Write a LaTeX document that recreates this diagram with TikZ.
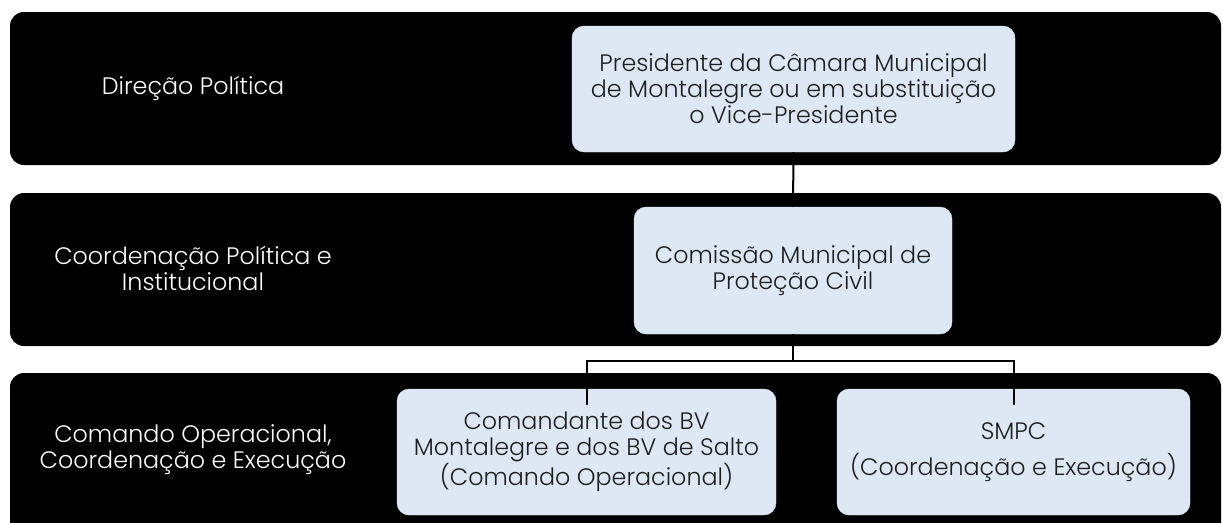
\documentclass[tikz,border=0pt]{standalone}
\usepackage{fontspec}
\setmainfont{Poppins Light}[Scale=1.19]
\definecolor{boxfill}{HTML}{DDE8F4}
\definecolor{boxtext}{HTML}{1E1E1E}
\begin{document}
\begin{tikzpicture}[x=1pt,y=-1pt,
  band/.style={fill=black,rounded corners=14pt},
  unit/.style={fill=boxfill,rounded corners=12pt,draw=boxfill,text=boxtext,align=center,font=\fontsize{20}{26}\selectfont,inner sep=0pt},
  levellabel/.style={text=white,align=center,font=\fontsize{20}{26}\selectfont},
  conn/.style={draw=black,line width=2pt}
]
\useasboundingbox (0,0) rectangle (1223,522);
\fill[white] (0,0) rectangle (1223,522);
% bands
\path[band] (10,12) rectangle (1221,165);
\path[band] (10,193) rectangle (1221,346);
\path[band] (10,373) rectangle (1221,540);
% labels
\node[levellabel] (l1) at (193,88) {Direção Política};
\node[levellabel] (l2) at (193,268) {Coordenação Política e\\Institucional};
\node[levellabel] (l3) at (193,450) {Comando Operacional,\\Coordenação e Execução};
% boxes
\node[unit,minimum width=443pt,minimum height=126pt] (b1) at (793.5,89) {Presidente da Câmara Municipal\\de Montalegre ou em substituição\\o Vice-Presidente};
\node[unit,minimum width=318pt,minimum height=127pt] (b2) at (793,270.5) {Comissão Municipal de\\Proteção Civil};
\node[unit,minimum width=379pt,minimum height=126pt] (b3) at (586.5,452) {Comandante dos BV\\Montalegre e dos BV de Salto\\(Comando Operacional)};
\node[unit,minimum width=353pt,minimum height=126pt] (b4) at (1013.5,452) {SMPC\\[10pt](Coordenação e Execução)};
% connectors
\coordinate (j) at (793,361);
\draw[conn] (b1.south) -- (b2.north);
\draw[conn] (b2.south) -- (j);
\draw[conn] (j) -| ([yshift=-16pt]b3.north);
\draw[conn] (j) -| ([yshift=-16pt]b4.north);
\end{tikzpicture}
\end{document}
